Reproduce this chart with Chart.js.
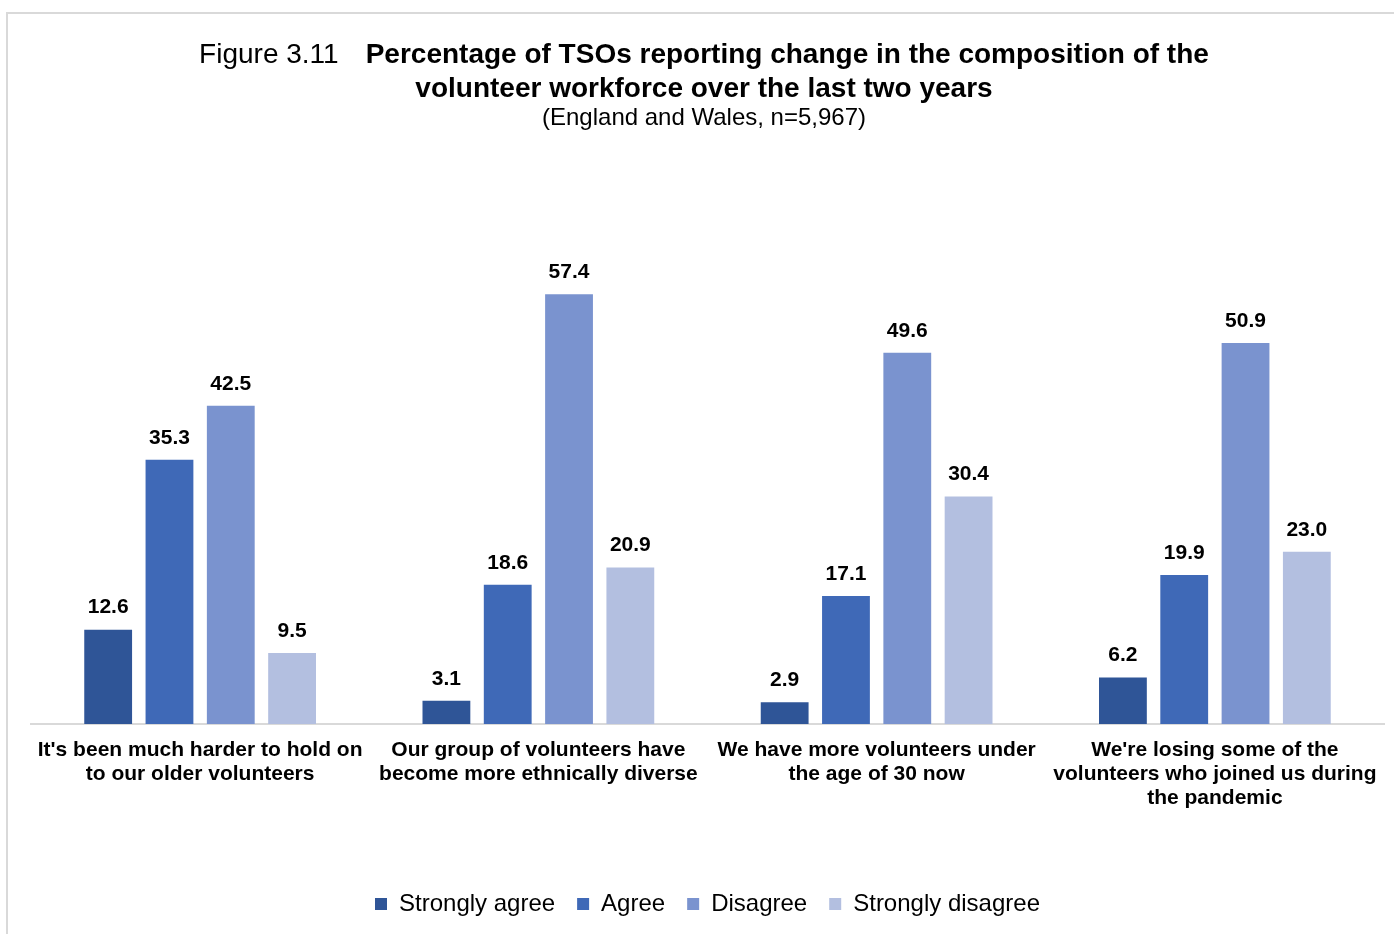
<!DOCTYPE html>
<html><head><meta charset="utf-8">
<script src="https://cdn.jsdelivr.net/npm/chart.js@4"></script>
<style>
html,body{margin:0;padding:0;background:#fff;}
body{width:1394px;height:934px;position:relative;overflow:hidden;font-family:"Liberation Sans",Arial,sans-serif;color:#000;}
#frame{position:absolute;left:6px;top:12px;right:-4px;bottom:-4px;border-left:2px solid #d9d9d9;border-top:2px solid #d9d9d9;}
#title{position:absolute;left:7px;width:1394px;top:37px;text-align:center;}
#title .l{font-size:28px;line-height:34px;white-space:nowrap;}
#title .b{font-weight:bold;}
#title .s{font-size:24px;line-height:24px;}
#c{position:absolute;left:0;top:0;}
</style></head>
<body>
<div id="frame"></div>
<canvas id="c" width="1394" height="934"></canvas>
<div id="title">
<div class="l"><span>Figure 3.11</span><span style="display:inline-block;width:27px"></span><span class="b">Percentage of TSOs reporting change in the composition of the</span></div>
<div class="l b">volunteer workforce over the last two years</div>
<div class="s">(England and Wales, n=5,967)</div>
</div>
<script>
const categories = [
  ["It's been much harder to hold on", "to our older volunteers"],
  ["Our group of volunteers have", "become more ethnically diverse"],
  ["We have more volunteers under", "the age of 30 now"],
  ["We're losing some of the", "volunteers who joined us during", "the pandemic"]
];
const seriesNames = ["Strongly agree", "Agree", "Disagree", "Strongly disagree"];
const stronglyAgree = [12.6, 3.1, 2.9, 6.2];
const agree = [35.3, 18.6, 17.1, 19.9];
const disagree = [42.5, 57.4, 49.6, 50.9];
const stronglyDisagree = [9.5, 20.9, 30.4, 23.0];
const colors = ["#2F5597", "#3F69B7", "#7A93CF", "#B3BFE0"];

const FONT = "'Liberation Sans', Arial, sans-serif";

const labelPlugin = {
  id: 'valueLabels',
  afterDatasetsDraw(chart) {
    const ctx = chart.ctx;
    ctx.save();
    ctx.font = "bold 21px " + FONT;
    ctx.fillStyle = "#000";
    ctx.textAlign = "center";
    ctx.textBaseline = "middle";
    chart.data.datasets.forEach((ds, i) => {
      const meta = chart.getDatasetMeta(i);
      meta.data.forEach((el, j) => {
        ctx.fillText(ds.data[j].toFixed(1), el.x, el.y - 22);
      });
    });
    ctx.restore();
  }
};

const allSeries = [stronglyAgree, agree, disagree, stronglyDisagree];
new Chart(document.getElementById('c'), {
  type: 'bar',
  data: {
    labels: categories,
    datasets: allSeries.map((d, i) => ({
      label: seriesNames[i],
      data: d,
      backgroundColor: colors[i],
      borderWidth: 0,
      categoryPercentage: 0.725,
      barPercentage: 0.78
    }))
  },
  options: {
    responsive: false,
    animation: false,
    devicePixelRatio: 1,
    layout: { padding: { left: 31, right: 10, top: 200, bottom: 8 } },
    plugins: {
      title: { display: false },
      tooltip: { enabled: false },
      legend: {
        position: 'bottom',
        labels: {
          boxWidth: 12, boxHeight: 12, padding: 22,
          color: '#000',
          font: { family: FONT, size: 24 }
        }
      }
    },
    scales: {
      y: { display: false, min: 0, max: 70 },
      x: {
        grid: { display: false },
        border: { display: true, color: '#d9d9d9', width: 2 },
        ticks: {
          color: '#000', padding: 6, maxRotation: 0, autoSkip: false,
          font: { family: FONT, size: 21, weight: 'bold', lineHeight: 1.143 }
        },
        afterFit(scale) { scale.height = 146; }
      }
    }
  },
  plugins: [labelPlugin]
});
</script>
</body></html>
